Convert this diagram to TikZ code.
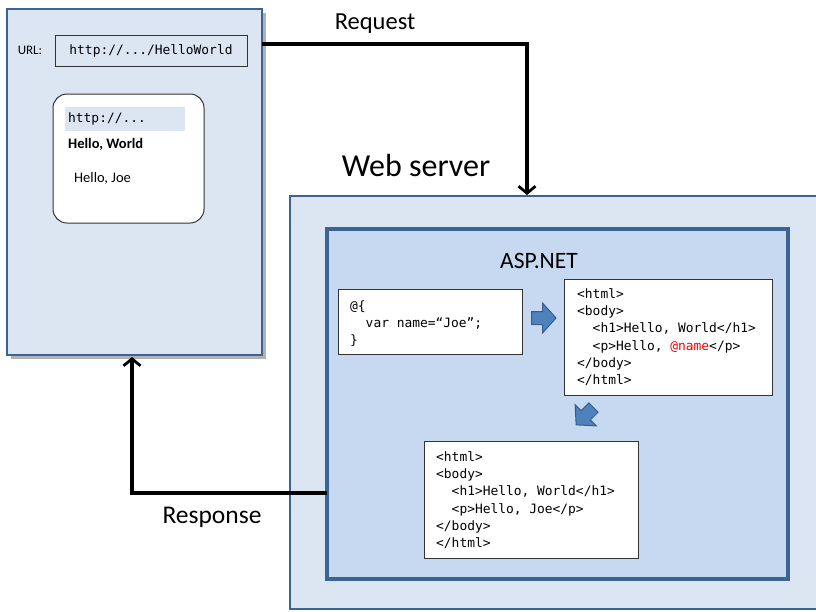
\documentclass[tikz,border=0pt]{standalone}
\usepackage{fontspec}
\setmainfont{Carlito}
\newfontfamily\codefont{DejaVu Sans Mono}
\usetikzlibrary{arrows.meta,shadows}
\definecolor{paleblue}{HTML}{DCE6F2}
\definecolor{midblue}{HTML}{C6D9F1}
\definecolor{edgeblue}{HTML}{3B6496}
\definecolor{arrowblue}{HTML}{4F81BD}
\definecolor{arrowedge}{HTML}{385D8A}
\tikzset{
  panel/.style={draw=edgeblue, fill=paleblue, line width=2.5pt},
  aspbox/.style={draw=edgeblue, fill=midblue, line width=4pt},
  codebox/.style={draw=black!80, fill=white, line width=1pt},
  codetext/.style={anchor=north west, inner sep=0pt, align=left, font=\codefont\fontsize{12.9}{17.2}\selectfont},
  label/.style={inner sep=0pt, text=black},
  flow/.style={line width=3.3pt, -{Straight Barb[length=7pt,width=17pt,line width=2.8pt]}},
  blockarrow/.style={fill=arrowblue, draw=arrowedge, line width=1pt, line join=miter}
}
\newcommand{\ind}{\phantom{xx}}
\begin{document}
\begin{tikzpicture}[x=1pt,y=-1pt]
\useasboundingbox (0,0) rectangle (816,611);
\clip (0,0) rectangle (816,611);
% browser
\draw[panel, drop shadow={shadow xshift=4pt, shadow yshift=-4pt, fill=black!30, opacity=1}] (7,9) rectangle (262,355);
\node[label, font=\fontsize{13}{15}\selectfont] (url) at (30,50) {URL:};
\node[draw=black!80, line width=1pt, minimum width=192, minimum height=31, inner sep=0pt] (urlbox) at (151,50.5) {\codefont\fontsize{12.9}{15}\selectfont http://.../HelloWorld};
\draw[draw=black!80, fill=white, line width=1pt, rounded corners=14pt] (53,94) rectangle (204,223);
\fill[paleblue] (65,107) rectangle (185,131);
\node[label, anchor=west, font=\codefont\fontsize{12.9}{15}\selectfont] (hurl) at (68,119) {http://...};
\node[label, anchor=west, font=\bfseries\fontsize{14.5}{16}\selectfont] (hw) at (68,144) {Hello, World};
\node[label, anchor=west, font=\fontsize{14.5}{16}\selectfont] (hj) at (74,178) {Hello, Joe};
% server
\draw[panel] (290,196) rectangle (840,609);
\node[label, font=\fontsize{32}{35}\selectfont] (ws) at (416,166) {Web server};
\draw[aspbox, drop shadow={shadow xshift=2pt, shadow yshift=-2pt, fill=black!25, opacity=1}] (327,229) rectangle (788,579);
\node[label, font=\fontsize{23.5}{26}\selectfont] (asp) at (539,261) {ASP.NET};
\coordinate (aspL) at (327,493);
% code boxes
\draw[codebox] (338,289) rectangle (522,354);
\node[codetext] (c1) at (350,300.5) {@\{\\\ind var name=“Joe”;\\\}};
\draw[codebox] (564,279) rectangle (772,395);
\node[codetext] (c2) at (577,288.5) {<html>\\<body>\\\ind<h1>Hello, World</h1>\\\ind<p>Hello, \textcolor{red}{@name}</p>\\</body>\\</html>};
\draw[codebox] (424,441) rectangle (638,558);
\node[codetext] (c3) at (436,451.5) {<html>\\<body>\\\ind<h1>Hello, World</h1>\\\ind<p>Hello, Joe</p>\\</body>\\</html>};
% block arrows
\begin{scope}[shift={(543.5,318)}]
\draw[blockarrow] (-12,-6.5) -- (-1,-6.5) -- (-1,-15) -- (12.5,0) -- (-1,15) -- (-1,6.5) -- (-12,6.5) -- cycle;
\end{scope}
\begin{scope}[shift={(585,416)}, rotate=-135]
\draw[blockarrow] (-12,-6.5) -- (-1,-6.5) -- (-1,-15) -- (12.5,0) -- (-1,15) -- (-1,6.5) -- (-12,6.5) -- cycle;
\end{scope}
% request / response
\coordinate (reqStart) at (262,44);
\coordinate (reqEnd) at (527,195);
\draw[flow] (reqStart) -| (reqEnd);
\node[label, font=\fontsize{24.5}{27}\selectfont] (req) at (375,23.5) {Request};
\coordinate (resEnd) at (132,357);
\draw[flow] (aspL) -| (resEnd);
\node[label, font=\fontsize{25.5}{28}\selectfont] (res) at (212,517) {Response};
\end{tikzpicture}
\end{document}
